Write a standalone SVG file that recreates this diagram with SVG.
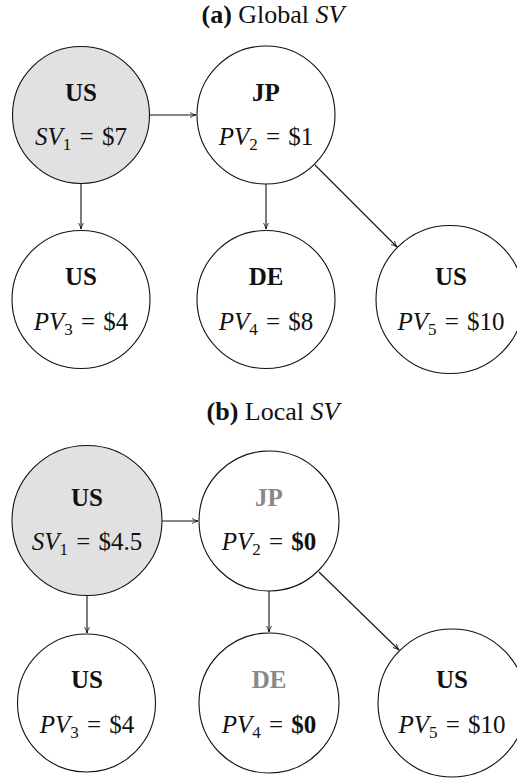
<svg xmlns="http://www.w3.org/2000/svg" width="517" height="778" viewBox="0 0 517 778">
<style>
text{font-family:"Liberation Serif","Times New Roman",serif;fill:#111;text-anchor:middle}
.t{font-size:26px}
.n{font-size:25px}
.b{font-weight:bold}
.i{font-style:italic}
.g{fill:#888}
.sub{font-size:17px}
circle{stroke:#111;stroke-width:1.1;fill:#fff}
circle.s{fill:#e1e1e1}
.e line{stroke:#111;stroke-width:1.1;marker-end:url(#ah)}
</style>
<defs>
<marker id="ah" viewBox="0 0 10 10" refX="9.5" refY="5" markerWidth="7" markerHeight="7" orient="auto" markerUnits="userSpaceOnUse">
<path d="M1,1.5 Q5,4 9.5,5 Q5,6 1,8.5" fill="none" stroke="#111" stroke-width="1.2"/>
</marker>
</defs>
<rect width="517" height="778" fill="#fff"/>

<text class="t" x="273" y="23"><tspan class="b">(a)</tspan> Global <tspan class="i">SV</tspan></text>

<g class="e" id="edges-a">
<line x1="149" y1="115" x2="196" y2="115"/>
<line x1="81" y1="184" x2="81" y2="229"/>
<line x1="266" y1="184" x2="266" y2="229"/>
<line x1="315" y1="165" x2="397" y2="247"/>
</g>

<g id="a1"><circle class="s" cx="81" cy="115" r="68.5"/>
<text class="n b" x="81" y="101">US</text>
<text class="n" x="81" y="145" word-spacing="2"><tspan class="i">SV</tspan><tspan class="sub" dy="5">1</tspan><tspan dy="-5"> = $7</tspan></text></g>
<g id="a2"><circle cx="266" cy="115" r="69"/>
<text class="n b" x="266" y="101">JP</text>
<text class="n" x="266" y="145" word-spacing="2"><tspan class="i">PV</tspan><tspan class="sub" dy="5">2</tspan><tspan dy="-5"> = $1</tspan></text></g>
<g id="a3"><circle cx="81" cy="299.5" r="69"/>
<text class="n b" x="81" y="285">US</text>
<text class="n" x="81" y="330" word-spacing="2"><tspan class="i">PV</tspan><tspan class="sub" dy="5">3</tspan><tspan dy="-5"> = $4</tspan></text></g>
<g id="a4"><circle cx="266" cy="299.5" r="69"/>
<text class="n b" x="266" y="285">DE</text>
<text class="n" x="266" y="330" word-spacing="2"><tspan class="i">PV</tspan><tspan class="sub" dy="5">4</tspan><tspan dy="-5"> = $8</tspan></text></g>
<g id="a5"><circle cx="450" cy="299.5" r="74"/>
<text class="n b" x="451" y="285">US</text>
<text class="n" x="451" y="330" word-spacing="2"><tspan class="i">PV</tspan><tspan class="sub" dy="5">5</tspan><tspan dy="-5"> = $10</tspan></text></g>

<text class="t" x="273" y="420"><tspan class="b">(b)</tspan> Local <tspan class="i">SV</tspan></text>

<g class="e" id="edges-b">
<line x1="162" y1="521" x2="198" y2="521"/>
<line x1="87" y1="596" x2="87" y2="633"/>
<line x1="269" y1="591" x2="269" y2="632"/>
<line x1="319" y1="572" x2="399" y2="650"/>
</g>

<g id="b1"><circle class="s" cx="87" cy="520.5" r="75"/>
<text class="n b" x="87" y="506">US</text>
<text class="n" x="87" y="550" word-spacing="2"><tspan class="i">SV</tspan><tspan class="sub" dy="5">1</tspan><tspan dy="-5"> = $4.5</tspan></text></g>
<g id="b2"><circle cx="269" cy="521" r="70"/>
<text class="n b g" x="269" y="506">JP</text>
<text class="n" x="269" y="550" word-spacing="2"><tspan class="i">PV</tspan><tspan class="sub" dy="5">2</tspan><tspan dy="-5"> = </tspan><tspan class="b">$0</tspan></text></g>
<g id="b3"><circle cx="86.5" cy="703" r="69"/>
<text class="n b" x="87" y="688">US</text>
<text class="n" x="87" y="733" word-spacing="2"><tspan class="i">PV</tspan><tspan class="sub" dy="5">3</tspan><tspan dy="-5"> = $4</tspan></text></g>
<g id="b4"><circle cx="269" cy="703" r="70"/>
<text class="n b g" x="269" y="688">DE</text>
<text class="n" x="269" y="733" word-spacing="2"><tspan class="i">PV</tspan><tspan class="sub" dy="5">4</tspan><tspan dy="-5"> = </tspan><tspan class="b">$0</tspan></text></g>
<g id="b5"><circle cx="452" cy="703" r="74"/>
<text class="n b" x="452" y="688">US</text>
<text class="n" x="452" y="733" word-spacing="2"><tspan class="i">PV</tspan><tspan class="sub" dy="5">5</tspan><tspan dy="-5"> = $10</tspan></text></g>
</svg>
